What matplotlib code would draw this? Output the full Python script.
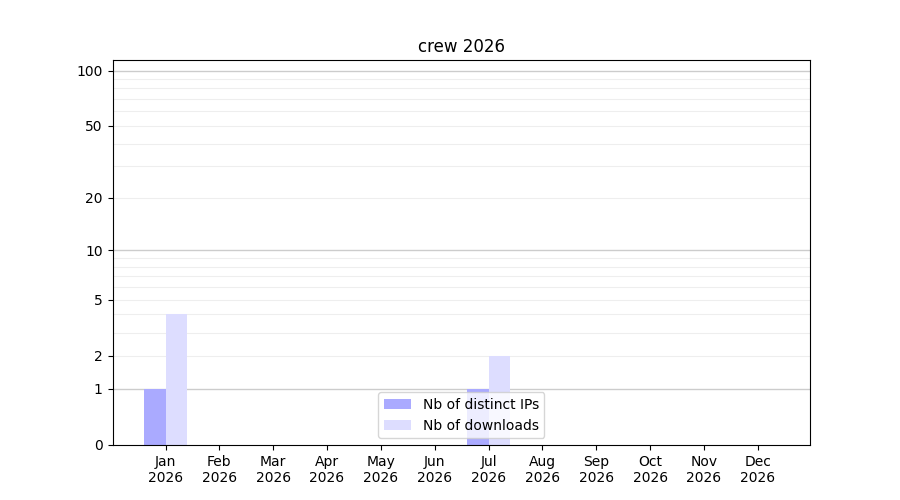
import numpy as np
import matplotlib
matplotlib.use("Agg")
import matplotlib.pyplot as plt

# monthly stats
months = ["Jan", "Feb", "Mar", "Apr", "May", "Jun",
          "Jul", "Aug", "Sep", "Oct", "Nov", "Dec"]
year = "2026"
distinct_ips = [1, 0, 0, 0, 0, 0, 1, 0, 0, 0, 0, 0]
downloads = [4, 0, 0, 0, 0, 0, 2, 0, 0, 0, 0, 0]
ytick_vals = [0, 1, 2, 5, 10, 20, 50, 100]


def fwd(y):
    return np.log10(1 + np.clip(y, 0, None))


def inv(y):
    return 10 ** y - 1


fig, ax = plt.subplots(figsize=(9, 5), dpi=100)

x = np.arange(len(months))
w = 0.4
ax.bar(x - w / 2, distinct_ips, width=w, color="#aaaaff", label="Nb of distinct IPs", zorder=2)
ax.bar(x + w / 2, downloads, width=w, color="#ddddff", label="Nb of downloads", zorder=2)

ax.set_yscale("function", functions=(fwd, inv))
ax.set_ylim(0, 114)
ax.set_xlim(-0.985, 11.97)

# grid lines: decades darker, the rest faint
for v in [1, 10, 100]:
    ax.axhline(v, color="#cccccc", lw=1, zorder=0)
minor = [2, 3, 4, 5, 6, 7, 8, 9, 20, 30, 40, 50, 60, 70, 80, 90]
for v in minor:
    ax.axhline(v, color="#eeeeee", lw=0.8, zorder=0)

ax.set_yticks(ytick_vals)
ax.set_yticklabels([str(v) for v in ytick_vals])
ax.yaxis.set_minor_locator(matplotlib.ticker.NullLocator())
ax.set_xticks(x)
ax.set_xticklabels([m + "\n" + year for m in months])

ax.set_title("crew 2026")
ax.legend(loc="lower center")

fig.savefig("out.png", dpi=100)
